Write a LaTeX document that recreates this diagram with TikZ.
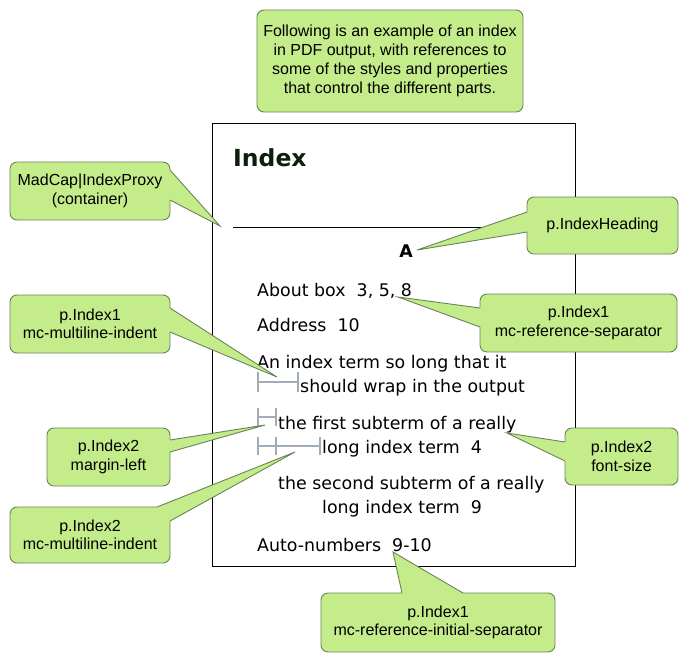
\documentclass[tikz,border=0pt]{standalone}
\usepackage{fontspec}
\setmainfont{Liberation Sans}
\newfontfamily\verd{DejaVu Sans}
\definecolor{cofill}{HTML}{C4EC8A}
\definecolor{coline}{HTML}{6A8458}
\definecolor{gauge}{HTML}{A2ACB6}
\definecolor{headcol}{HTML}{0E1E0E}
\tikzset{
  callout/.style={draw=coline, fill=cofill, line width=0.9pt, rounded corners=7pt,
    inner sep=0pt, align=center, font=\fontsize{16}{18.5}\selectfont},
  entry/.style={anchor=base west, inner sep=0pt, font=\verd\fontsize{17.4}{20}\selectfont},
  gaugeline/.style={draw=gauge, line width=1.4pt},
}
% pointer of a callout: base points #1 and #2 on the box edge, tip #3,
% #4 and #5 push the filled part into the box so it hides the edge
\newcommand\pointer[5]{%
  \fill[cofill] (#1) -- (#3) -- (#2) -- ([shift={#5}]#2) -- ([shift={#4}]#1) -- cycle;
  \draw[coline, line width=0.9pt, line join=miter] (#1) -- (#3) -- (#2);}
\begin{document}
\begin{tikzpicture}[x=1pt, y=-1pt]
\useasboundingbox (0,0) rectangle (689,662);

% the index page
\node[draw, line width=0.8pt, minimum width=363pt, minimum height=443pt, inner sep=0pt]
  (page) at (393.5,344.5) {};
\node[anchor=base west, inner sep=0pt, text=headcol, font=\verd\bfseries\fontsize{23.5}{26}\selectfont]
  (title) at (233,166) {Index};
\coordinate (ruleL) at (233,227);
\coordinate (ruleR) at (575,227);
\draw[line width=0.8pt] (ruleL) -- (ruleR);
\node[anchor=base, inner sep=0pt, font=\verd\bfseries\fontsize{17.4}{20}\selectfont] (letter) at (406,257) {A};

\node[entry] (e1) at (257,296) {About box\ \ 3, 5, 8};
\node[entry] (e2) at (257,331) {Address\ \ 10};
\node[entry] (e3) at (257,368) {An index term so long that it};
\node[entry] (e3b) at (300,392) {should wrap in the output};
\node[entry] (e4) at (278,429) {the first subterm of a really};
\node[entry] (e4b) at (322,453) {long index term\ \ 4};
\node[entry] (e5) at (278,489) {the second subterm of a really};
\node[entry] (e5b) at (322,513) {long index term\ \ 9};
\node[entry] (e6) at (257,551) {Auto-numbers\ \ 9-10};

% indent gauges
\coordinate (g1a) at (258,382); \coordinate (g1b) at (298,382);
\draw[gaugeline] (g1a) -- (g1b);
\draw[gaugeline] ([yshift=10pt]g1a) -- ([yshift=-10pt]g1a);
\draw[gaugeline] ([yshift=10pt]g1b) -- ([yshift=-10pt]g1b);

\coordinate (g2a) at (258,417); \coordinate (g2b) at (276,417);
\draw[gaugeline] (g2a) -- (g2b);
\draw[gaugeline] ([yshift=9pt]g2a) -- ([yshift=-9pt]g2a);
\draw[gaugeline] ([yshift=9pt]g2b) -- ([yshift=-9pt]g2b);

\coordinate (g3a) at (258,446); \coordinate (g3b) at (276,446); \coordinate (g3c) at (320,446);
\draw[gaugeline] (g3a) -- (g3c);
\draw[gaugeline] ([yshift=9pt]g3a) -- ([yshift=-9pt]g3a);
\draw[gaugeline] ([yshift=9pt]g3b) -- ([yshift=-9pt]g3b);
\draw[gaugeline] ([yshift=9pt]g3c) -- ([yshift=-9pt]g3c);

% introduction
\node[callout, minimum width=266pt, minimum height=102pt, font=\fontsize{16}{19}\selectfont] (intro) at (390,61)
  {Following is an example of an index\\in PDF output, with references to\\some of the styles and properties\\that control the different parts.};

% MadCap|IndexProxy
\node[callout, minimum width=160pt, minimum height=58pt] (proxy) at (90,191)
  {MadCap|IndexProxy\\(container)};
\coordinate (proxyA) at (170,170); \coordinate (proxyB) at (170,200);
\coordinate (proxyT) at (220,226);
\pointer{proxyA}{proxyB}{proxyT}{(-3,0)}{(-3,0)}

% p.IndexHeading
\node[callout, minimum width=151pt, minimum height=57pt] (head) at (602.5,225.5)
  {p.IndexHeading};
\coordinate (headA) at (527,212); \coordinate (headB) at (527,232);
\coordinate (headT) at (417,250);
\pointer{headA}{headB}{headT}{(3,0)}{(3,0)}

% p.Index1 reference separator
\node[callout, minimum width=197pt, minimum height=58pt] (sep) at (578.5,323)
  {p.Index1\\mc-reference-separator};
\coordinate (sepA) at (480,308); \coordinate (sepB) at (480,327);
\coordinate (sepT) at (398,297);
\pointer{sepA}{sepB}{sepT}{(3,0)}{(3,0)}

% p.Index2 font-size
\node[callout, minimum width=113pt, minimum height=57pt] (fsize) at (621.5,456.5)
  {p.Index2\\font-size};
\coordinate (fsizeA) at (565,442); \coordinate (fsizeB) at (565,461);
\coordinate (fsizeT) at (507,433);
\pointer{fsizeA}{fsizeB}{fsizeT}{(3,0)}{(3,0)}

% p.Index1 multiline indent
\node[callout, minimum width=160pt, minimum height=58pt] (mli1) at (90,324)
  {p.Index1\\mc-multiline-indent};
\coordinate (mli1A) at (170,308); \coordinate (mli1B) at (170,332);
\coordinate (mli1T) at (277,377);
\pointer{mli1A}{mli1B}{mli1T}{(-3,0)}{(-3,0)}

% p.Index2 margin-left
\node[callout, minimum width=123pt, minimum height=58pt] (mleft) at (108.5,457)
  {p.Index2\\margin-left};
\coordinate (mleftA) at (170,440); \coordinate (mleftB) at (170,452);
\coordinate (mleftT) at (265,425);
\pointer{mleftA}{mleftB}{mleftT}{(-3,0)}{(-3,0)}

% p.Index2 multiline indent
\node[callout, minimum width=160pt, minimum height=56pt] (mli2) at (90,535)
  {p.Index2\\mc-multiline-indent};
\coordinate (mli2A) at (157,507); \coordinate (mli2B) at (170,521);
\coordinate (mli2T) at (295,452);
\pointer{mli2A}{mli2B}{mli2T}{(-4,6)}{(-6,2)}

% p.Index1 reference initial separator
\node[callout, minimum width=234pt, minimum height=59pt] (isep) at (438,622.5)
  {p.Index1\\mc-reference-initial-separator};
\coordinate (isepA) at (402,593); \coordinate (isepB) at (463,593);
\coordinate (isepT) at (393,552);
\pointer{isepA}{isepB}{isepT}{(0,3)}{(0,3)}
\end{tikzpicture}
\end{document}
